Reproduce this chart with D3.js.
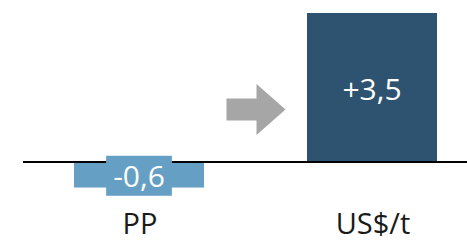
<!DOCTYPE html>
<html>
<head>
<meta charset="utf-8">
<script src="https://cdn.jsdelivr.net/npm/d3@7"></script>
<style>
  html, body { margin: 0; padding: 0; background: #fff; }
  svg { display: block; font-family: "Open Sans", "Noto Sans", sans-serif; }
</style>
</head>
<body>
<div id="chart"></div>
<script>
// data
var categories = ["PP", "US$/t"];
var values = [-0.6, 3.5];
var valueLabels = ["-0,6", "+3,5"];
var barColors = ["#669fc4", "#2d5370"];

var width = 467, height = 241;

var svg = d3.select('#chart')
    .append('svg')
    .attr('width', width)
    .attr('height', height);

// scales
var x = d3.scaleBand().domain(categories).range([74, 437]).paddingInner(103 / 233).paddingOuter(0);
var y = d3.scaleLinear().domain([0, 3.5]).range([162, 13]);

// bars
svg.append('g').attr('class', 'bars')
    .selectAll('rect')
    .data(values)
    .enter()
    .append('rect')
    .attr('x', function(d, i){ return x(categories[i]); })
    .attr('y', function(d){ return y(Math.max(0, d)); })
    .attr('width', x.bandwidth())
    .attr('height', function(d){ return Math.abs(y(d) - y(0)); })
    .style('fill', function(d, i){ return barColors[i]; });

// baseline
svg.append('line')
    .attr('x1', 23).attr('x2', width)
    .attr('y1', y(0)).attr('y2', y(0))
    .style('stroke', '#000')
    .style('stroke-width', 2);

// arrow between the two bars
var gapL = x(categories[0]) + x.bandwidth(), gapR = x(categories[1]);
var ax = (gapL + gapR) / 2 - 29, ay = 109.5;
var arrowPts = [[0, -11], [30, -11], [30, -25.5], [59, 0], [30, 25.5], [30, 11], [0, 11]];
svg.append('path')
    .attr('d', d3.line()(arrowPts.map(function(p){ return [ax + p[0], ay + p[1]]; })) + 'Z')
    .style('fill', '#a6a6a6');

// value labels
var labels = svg.append('g').attr('class', 'labels');
values.forEach(function(d, i){
    var cx = x(categories[i]) + x.bandwidth() / 2;
    var cy = (y(0) + y(d)) / 2 + 1;
    var g = labels.append('g');
    var bg = g.append('rect').style('fill', barColors[i]);
    var t = g.append('text')
        .attr('x', cx).attr('y', cy)
        .attr('text-anchor', 'middle')
        .attr('dominant-baseline', 'central')
        .style('font-size', '30px')
        .style('fill', '#fff')
        .text(valueLabels[i]);
    if (d < 0) {
        var bb = t.node().getBBox();
        bg.attr('x', bb.x - 7).attr('width', bb.width + 14)
          .attr('y', cy - 20).attr('height', 40);
    }
});

// category labels
svg.append('g').attr('class', 'cats')
    .selectAll('text')
    .data(categories)
    .enter()
    .append('text')
    .attr('x', function(d){ return x(d) + x.bandwidth() / 2 + 1; })
    .attr('y', 234)
    .attr('text-anchor', 'middle')
    .style('font-size', '29px')
    .style('fill', '#1a1a1a')
    .text(function(d){ return d; });
</script>
</body>
</html>
